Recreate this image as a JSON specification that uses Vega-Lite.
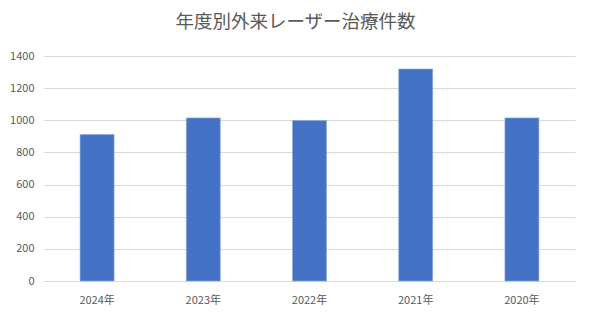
{
  "$schema": "https://vega.github.io/schema/vega-lite/v6.json",
  "width": 531,
  "height": 225,
  "autosize": {"type": "none"},
  "padding": {"left": 44, "top": 56, "right": 15, "bottom": 39},
  "background": "white",
  "title": {
    "text": "年度別外来レーザー治療件数",
    "font": "Noto Sans CJK JP",
    "fontSize": 18.5,
    "fontWeight": "normal",
    "color": "#595959",
    "anchor": "middle",
    "dx": -14,
    "offset": 19
  },
  "data": {
    "values": [
      {"year": "2024年", "count": 912},
      {"year": "2023年", "count": 1015},
      {"year": "2022年", "count": 999},
      {"year": "2021年", "count": 1319},
      {"year": "2020年", "count": 1015}
    ]
  },
  "mark": {"type": "bar", "color": "#4472C4", "stroke": "#8FAADC", "strokeWidth": 0.6},
  "encoding": {
    "x": {
      "field": "year",
      "type": "nominal",
      "sort": null,
      "scale": {"paddingInner": 0.68, "paddingOuter": 0.34},
      "axis": {
        "title": null,
        "labelAngle": 0,
        "ticks": false,
        "domainColor": "#D9D9D9",
        "labelPadding": 13,
        "labelFont": "Noto Sans CJK JP",
        "labelFontSize": 11,
        "labelColor": "#595959"
      }
    },
    "y": {
      "field": "count",
      "type": "quantitative",
      "scale": {"domain": [0, 1400]},
      "axis": {
        "title": null,
        "values": [0, 200, 400, 600, 800, 1000, 1200, 1400],
        "format": "d",
        "ticks": false,
        "domain": false,
        "gridColor": "#D9D9D9",
        "labelPadding": 10,
        "labelFont": "Noto Sans CJK JP",
        "labelFontSize": 11,
        "labelColor": "#595959"
      }
    }
  },
  "config": {"view": {"stroke": null}}
}
